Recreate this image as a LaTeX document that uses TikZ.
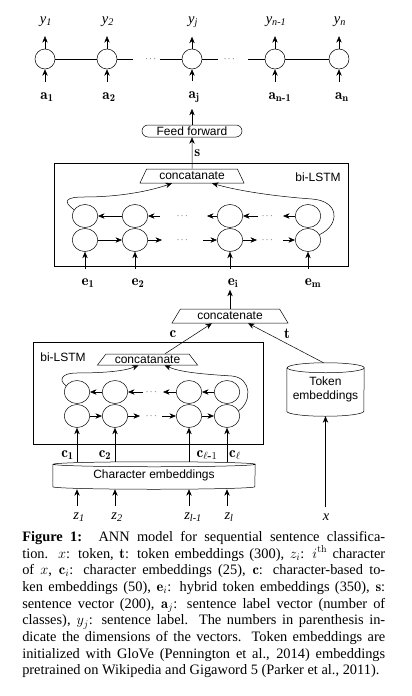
\documentclass[tikz,border=0pt]{standalone}
\usepackage{fix-cm}
\usepackage{amsmath}
\usepackage{fontspec}
\newfontfamily\helv{Liberation Sans}
\newfontfamily\tms{Liberation Serif}
\usetikzlibrary{arrows.meta,shapes.geometric,positioning}

% database drum drawn round a named node
\newcommand{\dbdrum}[3]{%
  \draw ([yshift=-#3]#1.north west) -- ([yshift=#3]#1.south west)
    arc[start angle=180,end angle=360,x radius=#2,y radius=#3]
    -- ([yshift=-#3]#1.north east)
    arc[start angle=0,end angle=360,x radius=#2,y radius=#3];}

\tikzset{
  outunit/.style={circle,draw,minimum size=20pt,inner sep=0pt},
  lstmcell/.style={ellipse,draw,minimum width=25.5pt,minimum height=23pt,inner sep=0pt},
  arr/.style={-{Stealth[length=6.5pt,width=5.4pt]}},
  sans/.style={font=\helv\fontsize{12}{13.5}\selectfont},
  catbox/.style={trapezium,draw,trapezium stretches body,
    trapezium left angle=#1,trapezium right angle=#1,inner sep=0pt,sans},
  boldlab/.style={inner sep=0pt,font=\fontsize{15}{17}\selectfont},
  itlab/.style={inner sep=0pt,font=\tms\itshape\fontsize{14.5}{16}\selectfont},
  dotsep/.style={inner sep=0pt,font=\fontsize{9}{9}\selectfont},
}

\begin{document}
\begin{tikzpicture}[x=1pt,y=-1pt,line width=0.5pt]
  \useasboundingbox (0,0) rectangle (412,696);

  % sentence labels
  \foreach \n/\x in {1/45,2/107,3/192,4/275,5/339}
    \node[outunit] (o\n) at (\x,59) {};
  \node[itlab] (y1) at (46,22) {y\textsubscript{1}};
  \node[itlab] (y2) at (108,22) {y\textsubscript{2}};
  \node[itlab] (y3) at (193,22) {y\textsubscript{j}};
  \node[itlab] (y4) at (276,22) {y\textsubscript{n-1}};
  \node[itlab] (y5) at (340,22) {y\textsubscript{n}};
  \node[boldlab] (a1) at (47,97) {$\mathbf{a_1}$};
  \node[boldlab] (a2) at (109,97) {$\mathbf{a_2}$};
  \node[boldlab] (a3) at (194,97) {$\mathbf{a_j}$};
  \node[boldlab] (a4) at (280,97) {$\mathbf{a}_{\mathbf{n}\textbf{-}\mathbf{1}}$};
  \node[boldlab] (a5) at (342,97) {$\mathbf{a_n}$};
  \foreach \n in {1,...,5} {
    \draw[arr,shorten >=9pt] (o\n.north) -- (o\n.north |- y\n.south);
    \draw[arr,shorten <=10pt] (o\n.south |- a\n.north) -- (o\n.south);
  }
  \coordinate (h1) at (133,59);
  \coordinate (h2) at (160,59);
  \coordinate (h3) at (218,59);
  \coordinate (h4) at (248,59);
  \node[dotsep] (hd1) at (151.5,59) {$\cdots$};
  \node[dotsep] (hd2) at (230,59) {$\cdots$};
  \draw (o1) -- (o2) -- (h1);
  \draw (h2) -- (o3) -- (h3);
  \draw (h4) -- (o4) -- (o5);

  \node[draw,rounded corners=6pt,minimum width=100pt,minimum height=12pt,
    inner sep=0pt,sans] (ff) at (192,131) {Feed forward};
  \draw[arr,shorten >=6pt] (ff.north) -- (ff.north |- a3.south);

  % word level bi-LSTM
  \node[draw,minimum width=294pt,minimum height=103pt,inner sep=0pt] (wlstm) at (201,214.5) {};
  \node[sans,anchor=north east] at ([xshift=-4pt,yshift=-6pt]wlstm.north east) {bi-LSTM};
  \node[catbox=50,minimum width=104pt,minimum height=14pt] (cat1) at (192,176) {concatanate};
  \draw[arr] (cat1.north) -- node[boldlab,right=2pt] {$\mathbf{s}$} (ff.south);
  \foreach \n/\x in {1/85,2/135,3/230,4/308} {
    \node[lstmcell] (bw\n) at (\x,216) {};
    \node[lstmcell] (fw\n) at (\x,240) {};
  }
  \node[dotsep] at (183,216) {$\cdots$};
  \node[dotsep] at (268,216) {$\cdots$};
  \node[dotsep] at (183,240) {$\cdots$};
  \node[dotsep] at (268,240) {$\cdots$};
  \coordinate (u1) at (160,216);
  \coordinate (u2) at (207,216);
  \coordinate (u3) at (258,216);
  \coordinate (u4) at (283,216);
  \coordinate (v1) at (162,240);
  \coordinate (v2) at (203,240);
  \coordinate (v3) at (257,240);
  \coordinate (v4) at (283,240);
  \draw[arr] (bw2) -- (bw1);
  \draw[arr] (u1) -- (bw2);
  \draw[arr] (bw3) -- (u2);
  \draw[arr] (u3) -- (bw3);
  \draw[arr] (bw4) -- (u4);
  \draw[arr] (fw1) -- (fw2);
  \draw[arr] (fw2) -- (v1);
  \draw[arr] (v2) -- (fw3);
  \draw[arr] (fw3) -- (v3);
  \draw[arr] (v4) -- (fw4);
  \draw[arr] (bw1.150) .. controls (62,201) and (66,197) .. (84,197)
    .. controls (120,197) and (150,191) .. ([xshift=-20pt]cat1.south);
  \draw[arr] (fw4.25) .. controls (340,225) and (340,201) .. (312,199)
    .. controls (270,196) and (235,190) .. ([xshift=20pt]cat1.south);
  \node[boldlab] (e1) at (88,283) {$\mathbf{e_1}$};
  \node[boldlab] (e2) at (138,283) {$\mathbf{e_2}$};
  \node[boldlab] (e3) at (233,283) {$\mathbf{e_i}$};
  \node[boldlab] (e4) at (313,283) {$\mathbf{e_m}$};
  \foreach \n in {1,...,4}
    \draw[arr,shorten <=9pt] (fw\n.south |- e\n.north) -- (fw\n.south);

  % hybrid token embedding
  \node[catbox=43,minimum width=116pt,minimum height=14pt] (cat2) at (230,316) {concatenate};
  \draw[arr,shorten >=2pt] (cat2.north) -- (cat2.north |- e3.south);

  % character level bi-LSTM
  \node[draw,minimum width=230pt,minimum height=102pt,inner sep=0pt] (clstm) at (148,393) {};
  \node[sans,anchor=north west] at ([xshift=4pt,yshift=-7pt]clstm.north west) {bi-LSTM};
  \node[catbox=43,minimum width=100pt,minimum height=11pt] (cat3) at (147.5,359.5) {concatanate};
  \foreach \n/\x in {1/77,2/115,3/189,4/227} {
    \node[lstmcell] (cbw\n) at (\x,392) {};
    \node[lstmcell] (cfw\n) at (\x,416) {};
  }
  \node[dotsep] at (152,392) {$\cdots$};
  \node[dotsep] at (152,416) {$\cdots$};
  \coordinate (p1) at (143,392);
  \coordinate (p2) at (163,392);
  \coordinate (q1) at (140,416);
  \coordinate (q2) at (162,416);
  \draw[arr] (cbw2) -- (cbw1);
  \draw[arr] (p1) -- (cbw2);
  \draw[arr] (cbw3) -- (p2);
  \draw[arr] (cbw4) -- (cbw3);
  \draw[arr] (cfw1) -- (cfw2);
  \draw[arr] (cfw2) -- (q1);
  \draw[arr] (q2) -- (cfw3);
  \draw[arr] (cfw3) -- (cfw4);
  \draw[arr] (cbw1.150) .. controls (58,380) and (62,373) .. (76,373)
    .. controls (105,373) and (125,371) .. ([xshift=-9pt]cat3.south);
  \draw[arr] (cfw4.25) .. controls (252,402) and (252,378) .. (232,376)
    .. controls (200,374) and (180,372) .. ([xshift=17pt]cat3.south);
  \draw[arr] ([xshift=17.5pt]cat3.north) -- ([xshift=-18pt]cat2.south);
  \node[boldlab] (clab) at (173,334) {$\mathbf{c}$};

  % token embeddings
  \node[minimum width=77pt,minimum height=53pt,inner sep=0pt,align=center,sans]
    (tok) at (325.5,389.5) {Token\\embeddings};
  \dbdrum{tok}{38.5pt}{5pt}
  \draw[arr] ([xshift=-2pt]tok.north) -- ([xshift=18pt]cat2.south);
  \node[boldlab] (tlab) at (287,334) {$\mathbf{t}$};

  % character embeddings
  \node[minimum width=202pt,minimum height=27pt,inner sep=0pt,sans] (chr) at (154,475.5) {Character embeddings};
  \dbdrum{chr}{101pt}{2.5pt}
  \node[boldlab] (c1) at (67.5,455) {$\mathbf{c_1}$};
  \node[boldlab] (c2) at (105,455) {$\mathbf{c_2}$};
  \node[boldlab] (c3) at (207,455) {$\mathbf{c}_{\ell\textbf{-}1}$};
  \node[boldlab] (c4) at (235,455) {$\mathbf{c}_{\ell}$};
  \node[itlab] (z1) at (79,517) {z\textsubscript{1}};
  \node[itlab] (z2) at (117,517) {z\textsubscript{2}};
  \node[itlab] (z3) at (193,517) {z\textsubscript{l-1}};
  \node[itlab] (z4) at (229,517) {z\textsubscript{l}};
  \foreach \n in {1,...,4} {
    \draw[arr] (cfw\n.south |- chr.north) -- (cfw\n.south);
    \draw[arr,shorten <=6pt] (cfw\n.south |- z\n.north) -- (cfw\n.south |- chr.south);
  }
  \node[itlab] (xin) at (326,517) {x};
  \draw[arr,shorten <=6pt] (tok.south |- xin.north) -- (tok.south);

  % caption
  \node[anchor=north west,inner sep=0pt,text width=363pt,align=justify,
    font=\tms\fontsize{14.4}{16.7}\selectfont] (cap) at (22,531) {%
    \textbf{Figure 1:}\hspace{0.3em} ANN model for sequential sentence classifica-\linebreak
    tion. $x$: token, $\mathbf{t}$: token embeddings (300), $z_i$: $i^{\mathrm{th}}$ character\linebreak
    of $x$, $\mathbf{c}_i$: character embeddings (25), $\mathbf{c}$: character-based to-\linebreak
    ken embeddings (50), $\mathbf{e}_i$: hybrid token embeddings (350), $\mathbf{s}$:\linebreak
    sentence vector (200), $\mathbf{a}_j$: sentence label vector (number of\linebreak
    classes), $y_j$: sentence label. The numbers in parenthesis in-\linebreak
    dicate the dimensions of the vectors. Token embeddings are\linebreak
    initialized with GloVe (Pennington et al., 2014) embeddings\linebreak
    pretrained on Wikipedia and Gigaword 5 (Parker et al., 2011).};
\end{tikzpicture}
\end{document}
